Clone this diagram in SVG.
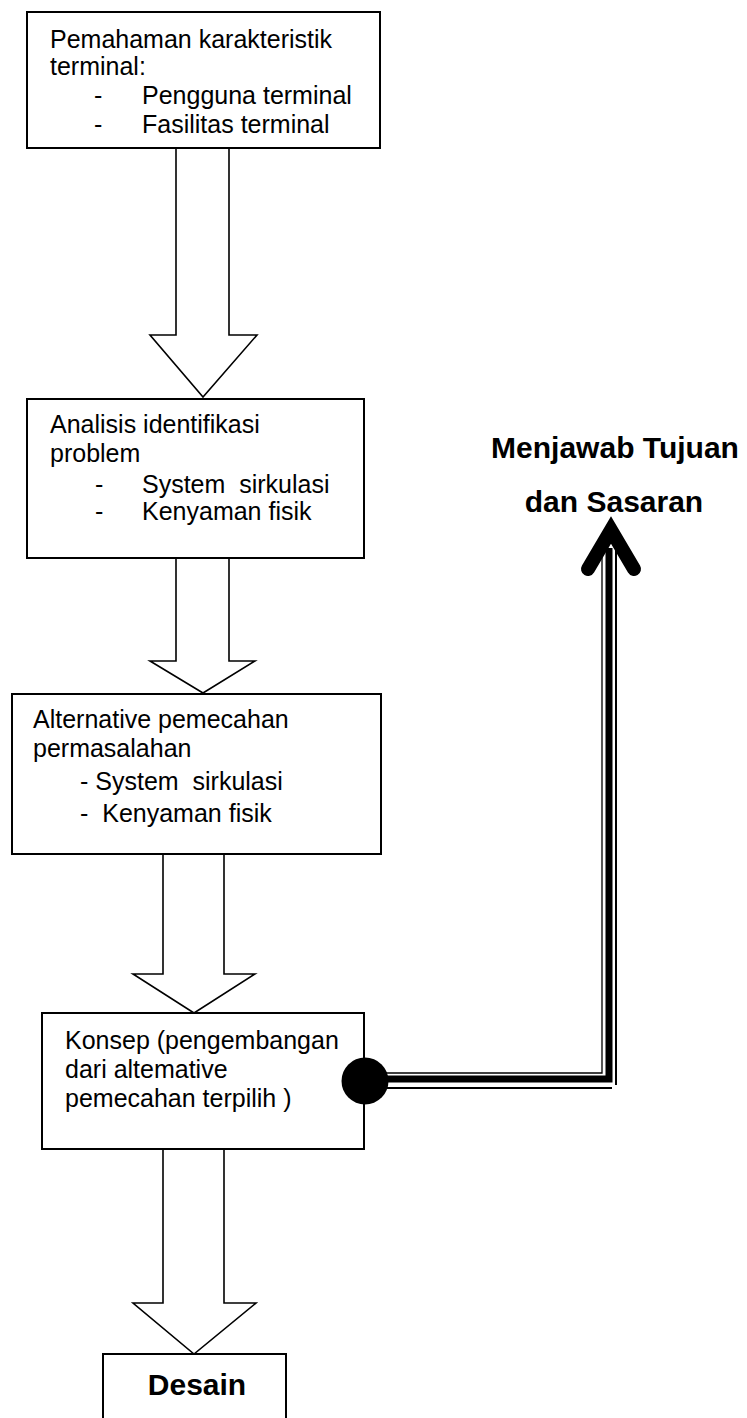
<svg xmlns="http://www.w3.org/2000/svg" width="747" height="1418" viewBox="0 0 747 1418">
<style>
.box{fill:#fff;stroke:#000;stroke-width:2}
.arr{fill:#fff;stroke:#000;stroke-width:1.6;stroke-linejoin:miter}
.t{font-family:"Liberation Sans",Arial,sans-serif;font-size:25px;fill:#000}
.b{font-family:"Liberation Sans",Arial,sans-serif;font-size:30px;font-weight:bold;fill:#000}
</style>
<rect width="747" height="1418" fill="#fff"/>
<g id="node-pemahaman">
<rect class="box" x="27" y="12" width="353" height="136"/>
<text class="t" x="50" y="48">Pemahaman karakteristik</text>
<text class="t" x="50" y="75">terminal:</text>
<text class="t" x="94" y="104">-</text>
<text class="t" x="142" y="104">Pengguna terminal</text>
<text class="t" x="94" y="133">-</text>
<text class="t" x="142" y="133">Fasilitas terminal</text>
</g>
<g id="node-analisis">
<rect class="box" x="27" y="399" width="337" height="159"/>
<text class="t" x="50" y="433">Analisis identifikasi</text>
<text class="t" x="50" y="462">problem</text>
<text class="t" x="95" y="493">-</text>
<text class="t" x="142" y="493" xml:space="preserve">System  sirkulasi</text>
<text class="t" x="95" y="520">-</text>
<text class="t" x="142" y="520">Kenyaman fisik</text>
</g>
<g id="node-alternative">
<rect class="box" x="12" y="694" width="369" height="160"/>
<text class="t" x="33" y="728">Alternative pemecahan</text>
<text class="t" x="33" y="757">permasalahan</text>
<text class="t" x="80" y="790" xml:space="preserve">- System  sirkulasi</text>
<text class="t" x="80" y="822" xml:space="preserve">-  Kenyaman fisik</text>
</g>
<g id="node-konsep">
<rect class="box" x="42" y="1013" width="322" height="136"/>
<text class="t" x="65" y="1049">Konsep (pengembangan</text>
<text class="t" x="65" y="1078">dari altemative</text>
<text class="t" x="65" y="1107">pemecahan terpilih )</text>
</g>
<g id="node-tujuan">
<text class="b" x="615" y="458" text-anchor="middle">Menjawab Tujuan</text>
<text class="b" x="614" y="512" text-anchor="middle">dan Sasaran</text>
</g>
<g id="node-desain">
<rect class="box" x="103" y="1354" width="183" height="80"/>
<text class="b" x="197" y="1395" text-anchor="middle">Desain</text>
</g>
<g id="connectors">
<path class="arr" d="M176,149 V335 H150 L203,397 L257,335 H229 V149"/>
<path class="arr" d="M176,559 V661 H150 L203,693 L255,661 H229 V559"/>
<path class="arr" d="M163,855 V974 H133 L194,1013 L255,974 H224 V855"/>
<path class="arr" d="M163,1150 V1303 H133 L194,1354 L256,1303 H224 V1150"/>
<g id="goal-link" fill="none" stroke="#000">
<path d="M365,1079 H609 V548" stroke-width="7" stroke-linejoin="miter"/>
<path d="M365,1088 H612" stroke-width="2"/>
<path d="M616,1085 V548" stroke-width="2"/>
<path d="M380,1073 H602 V548" stroke-width="1.3"/>
<path d="M588,569 L611,530 L634,569" stroke-width="14" stroke-linecap="round" stroke-linejoin="miter"/>
</g>
<circle cx="365" cy="1081" r="23.5" fill="#000"/>
</g>
</svg>
